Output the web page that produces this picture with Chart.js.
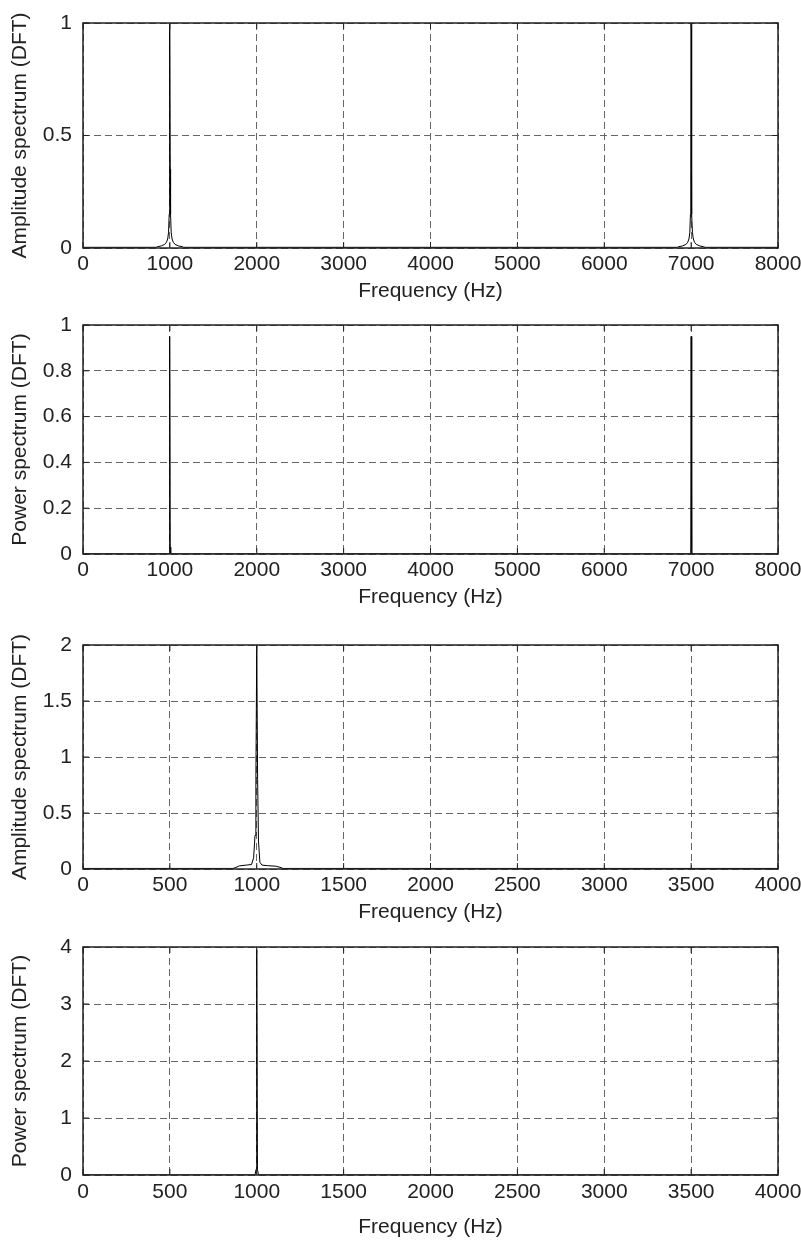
<!DOCTYPE html>
<html>
<head>
<meta charset="utf-8">
<script src="https://cdn.jsdelivr.net/npm/chart.js@4.4.1/dist/chart.umd.min.js"></script>
<style>
  body { margin: 0; background: #fff; }
  canvas { position: absolute; left: 0; }
</style>
</head>
<body>
<canvas id="amp8k" width="801" height="291" style="top:13px"></canvas>
<canvas id="pow8k" width="801" height="295" style="top:315px"></canvas>
<canvas id="amp4k" width="801" height="290" style="top:635px"></canvas>
<canvas id="pow4k" width="801" height="303" style="top:937px"></canvas>
<script>
// two-sided amplitude spectrum, 0..8000 Hz
const ampFreq8k = [0, 840, 860, 900, 940, 960, 975, 985, 992, 996, 1000, 1004, 1008, 1015, 1025, 1040, 1060, 1100, 1140, 1160,
  6840, 6860, 6900, 6940, 6960, 6975, 6985, 6992, 6996, 7000, 7004, 7008, 7015, 7025, 7040, 7060, 7100, 7140, 7160, 8000];
const ampVals8k = [0.003, 0.003, 0.006, 0.009, 0.016, 0.025, 0.04, 0.07, 0.15, 0.35, 1.0, 0.35, 0.15, 0.07, 0.04, 0.025, 0.016, 0.009, 0.006, 0.003,
  0.003, 0.006, 0.009, 0.016, 0.025, 0.04, 0.07, 0.15, 0.35, 1.0, 0.35, 0.15, 0.07, 0.04, 0.025, 0.016, 0.009, 0.006, 0.003, 0.003];

// two-sided power spectrum
const powFreq8k = [0, 990, 996, 1000, 1004, 1010, 6990, 6996, 7000, 7004, 7010, 8000];
const powVals8k = [0.001, 0.001, 0.03, 0.95, 0.03, 0.001, 0.001, 0.03, 0.95, 0.03, 0.001, 0.001];

// one-sided amplitude spectrum, 0..4000 Hz
const ampFreq4k = [0, 860, 875, 900, 940, 970, 982, 990, 995, 1000, 1005, 1010, 1018, 1030, 1060, 1110, 1140, 1150, 4000];
const ampVals4k = [0.005, 0.005, 0.01, 0.028, 0.035, 0.04, 0.1, 0.3, 0.8, 2.0, 0.8, 0.25, 0.06, 0.035, 0.03, 0.025, 0.012, 0.005, 0.005];

// one-sided power spectrum
const powFreq4k = [0, 990, 996, 1000, 1004, 1010, 4000];
const powVals4k = [0.002, 0.002, 0.1, 3.95, 0.1, 0.002, 0.002];

const xTicks8k = [0, 1000, 2000, 3000, 4000, 5000, 6000, 7000, 8000];
const xTicks4k = [0, 500, 1000, 1500, 2000, 2500, 3000, 3500, 4000];
const yTicksAmp8k = [0, 0.5, 1];
const yTicksPow8k = [0, 0.2, 0.4, 0.6, 0.8, 1];
const yTicksAmp4k = [0, 0.5, 1, 1.5, 2];
const yTicksPow4k = [0, 1, 2, 3, 4];

const FONT = { family: 'Liberation Sans, Arial, Helvetica, sans-serif', size: 21 };
const DASH = [7, 4];

// MATLAB-like box with inward ticks
const frameBox = {
  id: 'frameBox',
  afterDatasetsDraw(chart) {
    const { ctx, chartArea: a, scales: { x, y } } = chart;
    ctx.save();
    ctx.strokeStyle = '#222';
    ctx.lineWidth = 1.5;
    ctx.strokeRect(a.left, a.top, a.right - a.left, a.bottom - a.top);
    ctx.lineWidth = 1;
    ctx.beginPath();
    x.ticks.forEach(t => {
      const px = x.getPixelForValue(t.value);
      ctx.moveTo(px, a.bottom); ctx.lineTo(px, a.bottom - 6);
      ctx.moveTo(px, a.top); ctx.lineTo(px, a.top + 6);
    });
    y.ticks.forEach(t => {
      const py = y.getPixelForValue(t.value);
      ctx.moveTo(a.left, py); ctx.lineTo(a.left + 6, py);
      ctx.moveTo(a.right, py); ctx.lineTo(a.right - 6, py);
    });
    ctx.stroke();
    ctx.restore();
  }
};

function makeChart(id, freqs, vals, xTicks, yTicks, yTitle, xHeight, xPad) {
  const pts = freqs.map((f, i) => ({ x: f, y: vals[i] }));
  return new Chart(document.getElementById(id), {
    type: 'line',
    data: {
      datasets: [{
        data: pts,
        borderColor: '#000',
        borderWidth: 1,
        pointRadius: 0,
        tension: 0,
        fill: false
      }]
    },
    options: {
      responsive: false,
      animation: false,
      layout: { padding: { left: 0, top: 10, right: 23, bottom: 0 } },
      plugins: { legend: { display: false }, tooltip: { enabled: false } },
      scales: {
        x: {
          type: 'linear',
          min: xTicks[0],
          max: xTicks[xTicks.length - 1],
          afterBuildTicks: s => { s.ticks = xTicks.map(v => ({ value: v })); },
          afterFit: s => { s.height = xHeight; s.paddingLeft = 0; s.paddingRight = 0; },
          grid: { color: '#666', lineWidth: 1, drawTicks: false },
          border: { display: false, dash: DASH },
          ticks: { font: FONT, color: '#222', padding: xPad, maxRotation: 0, callback: v => String(v) },
          title: { display: true, text: 'Frequency (Hz)', font: FONT, color: '#222', padding: { top: 0, bottom: 0 } }
        },
        y: {
          min: yTicks[0],
          max: yTicks[yTicks.length - 1],
          afterBuildTicks: s => { s.ticks = yTicks.map(v => ({ value: v })); },
          afterFit: s => { s.width = 83; s.paddingTop = 0; s.paddingBottom = 0; },
          grid: { color: '#666', lineWidth: 1, drawTicks: false },
          border: { display: false, dash: DASH },
          ticks: { font: FONT, color: '#222', padding: 11, callback: v => String(v) },
          title: { display: true, text: yTitle, font: FONT, color: '#222', padding: { top: 8, bottom: 0 } }
        }
      }
    },
    plugins: [frameBox]
  });
}

makeChart('amp8k', ampFreq8k, ampVals8k, xTicks8k, yTicksAmp8k, 'Amplitude spectrum (DFT)', 56, 4);
makeChart('pow8k', powFreq8k, powVals8k, xTicks8k, yTicksPow8k, 'Power spectrum (DFT)', 56, 4);
makeChart('amp4k', ampFreq4k, ampVals4k, xTicks4k, yTicksAmp4k, 'Amplitude spectrum (DFT)', 56, 4);
makeChart('pow4k', powFreq4k, powVals4k, xTicks4k, yTicksPow4k, 'Power spectrum (DFT)', 65, 5);
</script>
</body>
</html>
